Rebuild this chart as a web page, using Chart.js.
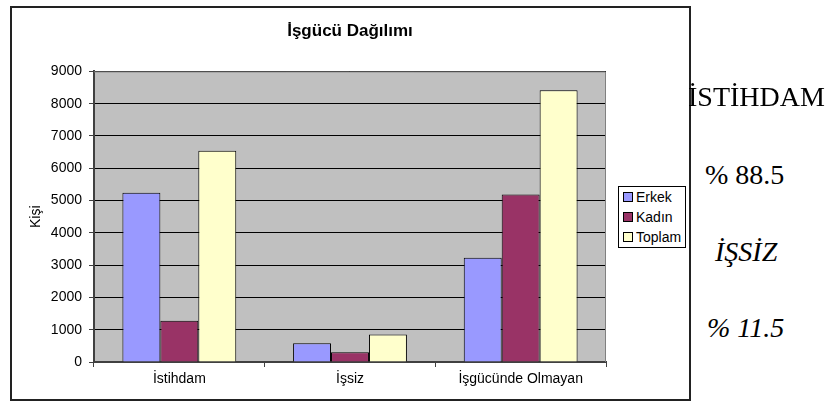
<!DOCTYPE html>
<html>
<head>
<meta charset="utf-8">
<script src="https://cdn.jsdelivr.net/npm/chart.js@4.4.0/dist/chart.umd.min.js"></script>
<style>
  html, body { margin:0; padding:0; background:#fff; width:833px; height:403px; overflow:hidden; }
  #frame { position:absolute; left:10px; top:6px; width:677px; height:391px; border:2px solid #222; background:#fff; }
  #c { display:block; }
  #legend { position:absolute; left:618px; top:186px; width:66px; height:60px; border:1px solid #000; background:#fff;
            font-family:"Liberation Sans", Arial, sans-serif; font-size:14px; color:#000; }
  .li { position:absolute; left:4px; height:16px; line-height:16px; white-space:nowrap; }
  .sw { display:inline-block; width:8px; height:8px; border:1px solid #000; margin-right:3px; vertical-align:0px; }
  .rt { position:absolute; font-family:"Times New Roman", "Liberation Serif", "DejaVu Serif", serif; font-size:28px; line-height:28px; color:#000; white-space:nowrap; }
</style>
</head>
<body>
<div id="frame"><canvas id="c" width="677" height="391"></canvas></div>
<div id="legend"></div>
<div class="rt" style="left:688px; top:83px;">İSTİHDAM</div>
<div class="rt" style="left:705px; top:161px;">% 88.5</div>
<div class="rt" style="left:715px; top:238px; font-style:italic;">İŞSİZ</div>
<div class="rt" style="left:707px; top:314px; font-style:italic;">% 11.5</div>
<script>
const categories = ["İstihdam", "İşsiz", "İşgücünde Olmayan"];
const seriesNames = ["Erkek", "Kadın", "Toplam"];
const erkek = [5240, 580, 3230];
const kadin = [1280, 300, 5190];
const toplam = [6540, 850, 8420];
const yTicks = [0, 1000, 2000, 3000, 4000, 5000, 6000, 7000, 8000, 9000];
const colors = ["#9999FF", "#993366", "#FFFFCC"];

const FONT = "'Liberation Sans', Arial, sans-serif";

const plotBg = {
  id: 'plotBg',
  afterLayout(chart) {
    const t = chart.titleBlock, a = chart.chartArea;
    if (t) { t.left = a.left; t.right = a.right; t.width = a.right - a.left; }
  },
  beforeDraw(chart) {
    const a = chart.chartArea, ctx = chart.ctx;
    ctx.save();
    ctx.fillStyle = '#C0C0C0';
    ctx.fillRect(a.left, a.top, a.right - a.left, a.bottom - a.top);
    ctx.restore();
  },
  afterDatasetsDraw(chart) {
    const a = chart.chartArea, ctx = chart.ctx;
    ctx.save();
    ctx.strokeStyle = '#808080';
    ctx.lineWidth = 1;
    ctx.beginPath();
    ctx.moveTo(a.left, a.top + 0.5); ctx.lineTo(a.right - 0.5, a.top + 0.5); ctx.lineTo(a.right - 0.5, a.bottom);
    ctx.stroke();
    ctx.restore();
  }
};

new Chart(document.getElementById('c'), {
  type: 'bar',
  data: {
    labels: categories,
    datasets: [
      { label: seriesNames[0], data: erkek, backgroundColor: colors[0] },
      { label: seriesNames[1], data: kadin, backgroundColor: colors[1] },
      { label: seriesNames[2], data: toplam, backgroundColor: colors[2] }
    ].map(d => Object.assign(d, { borderColor: '#000', borderWidth: 1, categoryPercentage: 0.667, barPercentage: 1.0 }))
  },
  options: {
    responsive: false,
    animation: false,
    devicePixelRatio: 1,
    layout: { padding: { left: 0, right: 83, top: 0, bottom: 0 } },
    plugins: {
      legend: { display: false },
      tooltip: { enabled: false },
      title: {
        display: true,
        text: 'İşgücü Dağılımı',
        color: '#000',
        font: { family: FONT, size: 17, weight: 'bold' },
        padding: { top: 13, bottom: 30 }
      }
    },
    scales: {
      x: {
        grid: { display: true, drawOnChartArea: false, offset: true, tickLength: 5, color: '#404040', lineWidth: 1 },
        border: { display: true, color: '#404040', width: 2 },
        ticks: { color: '#000', font: { family: FONT, size: 14 }, padding: 4, maxRotation: 0 },
        afterFit(s) { s.height = 37; }
      },
      y: {
        min: 0, max: 9000,
        afterBuildTicks(s) { s.ticks = yTicks.map(v => ({ value: v })); },
        grid: { color: '#000', lineWidth: 1, tickLength: 5, drawTicks: true, tickColor: '#404040' },
        border: { display: true, color: '#404040', width: 2 },
        ticks: { color: '#000', font: { family: FONT, size: 14 }, padding: 7, callback: v => String(v) },
        title: { display: true, text: 'Kişi', color: '#000', font: { family: FONT, size: 14 }, padding: { top: 16, bottom: 0 } },
        afterFit(s) { s.width = 82; }
      }
    }
  },
  plugins: [plotBg]
});

const lg = document.getElementById('legend');
seriesNames.forEach((n, i) => {
  const d = document.createElement('div');
  d.className = 'li';
  d.style.top = (2 + i * 20) + 'px';
  d.innerHTML = '<span class="sw" style="background:' + colors[i] + '"></span>' + n;
  lg.appendChild(d);
});
</script>
</body>
</html>
